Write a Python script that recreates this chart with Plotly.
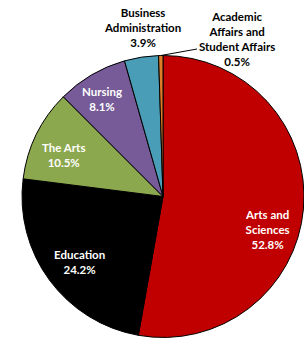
import math
import plotly.graph_objects as go

labels = ["Arts and<br>Sciences", "Education", "The Arts", "Nursing",
          "Business<br>Administration", "Academic<br>Affairs and<br>Student Affairs"]
values = [52.8, 24.2, 10.5, 8.1, 3.9, 0.5]
colors = ["#C00000", "#000000", "#8CA84E", "#765B98", "#4A9DB6", "#E07B28"]

W, H = 304, 341
# pie box in pixels
px0, px1, py0, py1 = 22, 304, 55, 338
cx, cy = (px0 + px1) / 2, (py0 + py1) / 2
r = min(px1 - px0, py1 - py0) / 2

fig = go.Figure(go.Pie(
    labels=labels, values=values, sort=False, direction="clockwise", rotation=0,
    marker=dict(colors=colors, line=dict(color="#000000", width=1)),
    textinfo="none", hoverinfo="label+percent", showlegend=False,
    domain=dict(x=[px0 / W, px1 / W], y=[1 - py1 / H, 1 - py0 / H]),
))

# label positions (pixels) and colours
label_pos = [(267, 230), (79, 262), (63, 155), (102, 99), (142, 27), (237, 39)]
label_col = ["white", "white", "white", "white", "black", "black"]

font = "Lato"
for lab, val, (x, y), c in zip(labels, values, label_pos, label_col):
    fig.add_annotation(
        x=x / W, y=1 - y / H, xref="paper", yref="paper",
        text=f"<b>{lab}<br>{val:.1f}%</b>", showarrow=False,
        font=dict(family=font, size=11.5, color=c), align="center",
        xanchor="center", yanchor="middle",
    )

# leader line for the smallest slice
cum = sum(values[:-1]) + values[-1] / 2
ang = cum / sum(values) * 2 * math.pi
ex, ey = cx + r * math.sin(ang), cy - r * math.cos(ang)
fig.add_shape(type="line", xref="paper", yref="paper",
              x0=ex / W, y0=1 - ey / H, x1=197 / W, y1=1 - 49 / H,
              line=dict(color="#000000", width=1))

fig.update_layout(width=W, height=H, margin=dict(l=0, r=0, t=0, b=0),
                  paper_bgcolor="white", plot_bgcolor="white")
fig.write_html("out.html", config={"displayModeBar": False},
               post_script="document.body.style.margin='0';document.body.style.overflow='hidden';")
